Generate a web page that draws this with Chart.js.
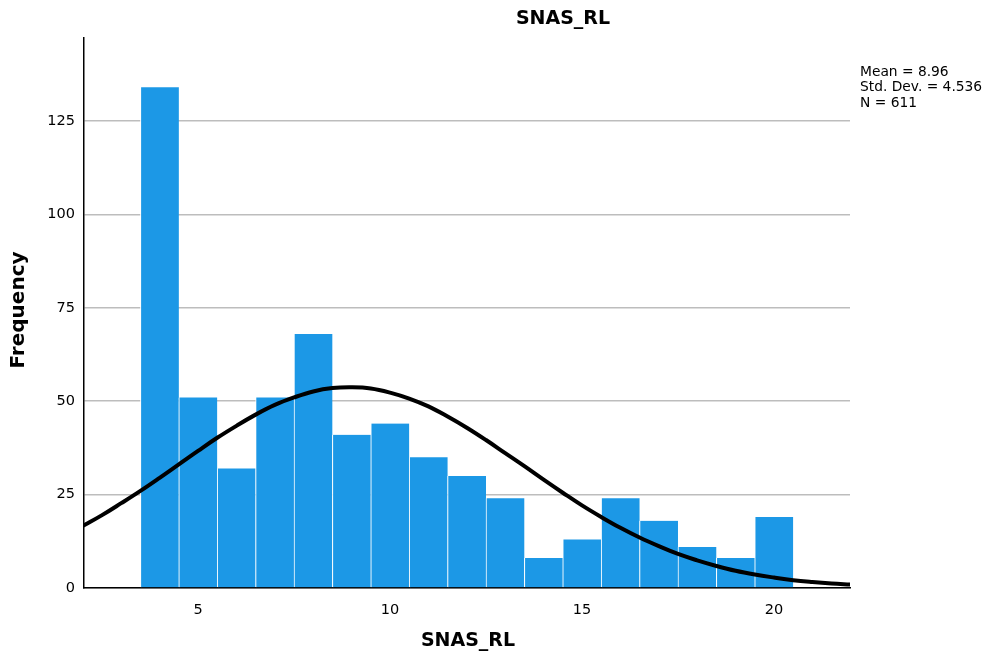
<!DOCTYPE html>
<html>
<head>
<meta charset="utf-8">
<script src="https://cdn.jsdelivr.net/npm/chart.js@4/dist/chart.umd.min.js"></script>
<style>
  html, body { margin: 0; padding: 0; background: #fff; }
  #wrap { width: 987px; height: 655px; position: relative; }
</style>
</head>
<body>
<div id="wrap"><canvas id="myChart"></canvas></div>
<script>
// histogram bins (SNAS_RL score) and frequencies
const bins = [4, 5, 6, 7, 8, 9, 10, 11, 12, 13, 14, 15, 16, 17, 18, 19, 20];
const counts = [134, 51, 32, 51, 68, 41, 44, 35, 30, 24, 8, 13, 24, 18, 11, 8, 19];

// normal curve
const curveX = [2, 2.5, 3, 3.5, 4, 4.5, 5, 5.5, 6, 6.5, 7, 7.5, 8, 8.5, 9, 9.5, 10, 10.5, 11, 11.5,
                12, 12.5, 13, 13.5, 14, 14.5, 15, 15.5, 16, 16.5, 17, 17.5, 18, 18.5, 19, 19.5, 20, 20.5, 21, 21.5, 22];
const curveY = [16.6, 19.5, 22.7, 26.0, 29.5, 33.1, 36.7, 40.2, 43.4, 46.4, 49.0, 51.0, 52.6, 53.5, 53.7, 53.4, 52.3, 50.7, 48.6, 45.9,
                42.9, 39.6, 36.1, 32.6, 29.0, 25.5, 22.1, 19.0, 16.1, 13.5, 11.2, 9.1, 7.4, 5.9, 4.6, 3.6, 2.8, 2.1, 1.6, 1.2, 0.9];

const xTicks = [5, 10, 15, 20];
const yTicks = [0, 25, 50, 75, 100, 125];
const stats = ['Mean = 8.96', 'Std. Dev. = 4.536', 'N = 611'];

const FONT = '"DejaVu Sans", sans-serif';

const barData = bins.map((b, i) => ({ x: b, y: counts[i] }));
const lineData = curveX.map((x, i) => ({ x: x, y: curveY[i] }));

// titles and the stats box
const labelsPlugin = {
    id: 'labels',
    afterDraw(chart) {
        const ctx = chart.ctx;
        const area = chart.chartArea;
        ctx.save();
        ctx.fillStyle = '#000';
        ctx.textBaseline = 'middle';
        ctx.textAlign = 'center';
        ctx.font = 'bold 19px ' + FONT;
        ctx.fillText('SNAS_RL', 563, 19);
        ctx.fillText('SNAS_RL', 468, 641);
        ctx.save();
        ctx.translate(19, 310);
        ctx.rotate(-Math.PI / 2);
        ctx.font = 'bold 20px ' + FONT;
        ctx.fillText('Frequency', 0, 0);
        ctx.restore();
        ctx.textAlign = 'left';
        ctx.font = '13.8px ' + FONT;
        for (let n = 0; n < stats.length; n++) {
            ctx.fillText(stats[n], area.right + 10, 72 + n * 15.5);
        }
        ctx.restore();
    }
};

const chart = document.querySelector('#myChart').getContext('2d');
const myChart = new Chart(chart, {
    type: 'bar',
    data: {
        datasets: [
            {
                type: 'line',
                label: 'Normal',
                data: lineData,
                borderColor: '#000',
                borderWidth: 4,
                pointRadius: 0,
                tension: 0.4,
                fill: false,
                order: 0
            },
            {
                type: 'bar',
                label: 'Frequency',
                data: barData,
                backgroundColor: '#1c98e6',
                borderColor: '#ffffff',
                borderWidth: { left: 1, right: 0, top: 0, bottom: 0 },
                borderSkipped: false,
                barPercentage: 1,
                categoryPercentage: 1,
                order: 1
            }
        ]
    },
    options: {
        responsive: true,
        maintainAspectRatio: false,
        animation: false,
        layout: { padding: { left: 0, top: 38, right: 137, bottom: 0 } },
        plugins: {
            legend: { display: false },
            tooltip: { enabled: false },
            title: { display: false }
        },
        scales: {
            x: {
                type: 'linear',
                offset: false,
                min: 2.03,
                max: 21.98,
                afterBuildTicks: (s) => { s.ticks = xTicks.map(v => ({ value: v })); },
                afterFit: (s) => { s.height = 67; },
                grid: { display: false, offset: false },
                border: { display: true, color: '#000', width: 1.5 },
                ticks: { font: { family: FONT, size: 14.5 }, color: '#000', padding: 6, maxRotation: 0 }
            },
            y: {
                min: 0,
                max: 147.2,
                afterBuildTicks: (s) => { s.ticks = yTicks.map(v => ({ value: v })); },
                afterFit: (s) => { s.width = 84; },
                grid: { color: '#bdbdbd', lineWidth: 1.5, drawTicks: false },
                border: { display: true, color: '#000', width: 1.5 },
                ticks: { font: { family: FONT, size: 14.5 }, color: '#000', padding: 9 }
            }
        }
    },
    plugins: [labelsPlugin]
});
</script>
</body>
</html>
